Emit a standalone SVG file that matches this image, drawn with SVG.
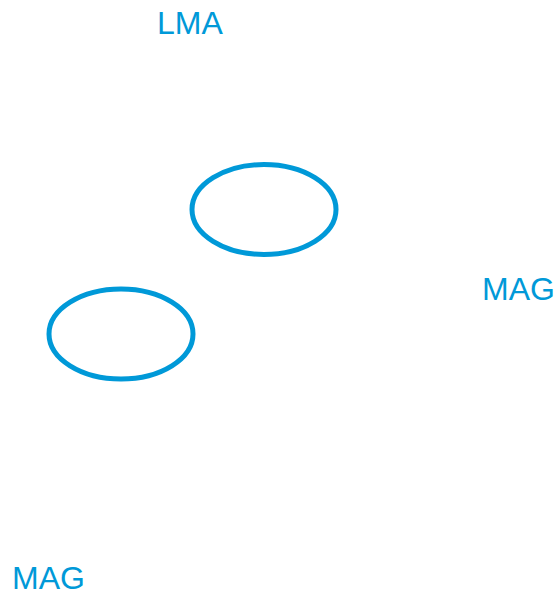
<svg xmlns="http://www.w3.org/2000/svg" width="560" height="595" viewBox="0 0 560 595">
<style>
.n{fill:none;stroke:#0099d8;stroke-width:5}
.t{font-family:"Liberation Sans",Arial,sans-serif;font-size:32px;fill:#0099d8}
</style>
<rect width="560" height="595" fill="#fff"/>
<g id="label-lma"><text class="t" x="157" y="34">LMA</text></g>
<g id="label-mag-right"><text class="t" x="482" y="300">MAG</text></g>
<g id="label-mag-bottom"><text class="t" x="12" y="589">MAG</text></g>
<g id="node-1"><ellipse class="n" cx="264" cy="209.5" rx="72" ry="45"/></g>
<g id="node-2"><ellipse class="n" cx="121" cy="334" rx="72" ry="45"/></g>
<g id="connectors"></g>
</svg>
